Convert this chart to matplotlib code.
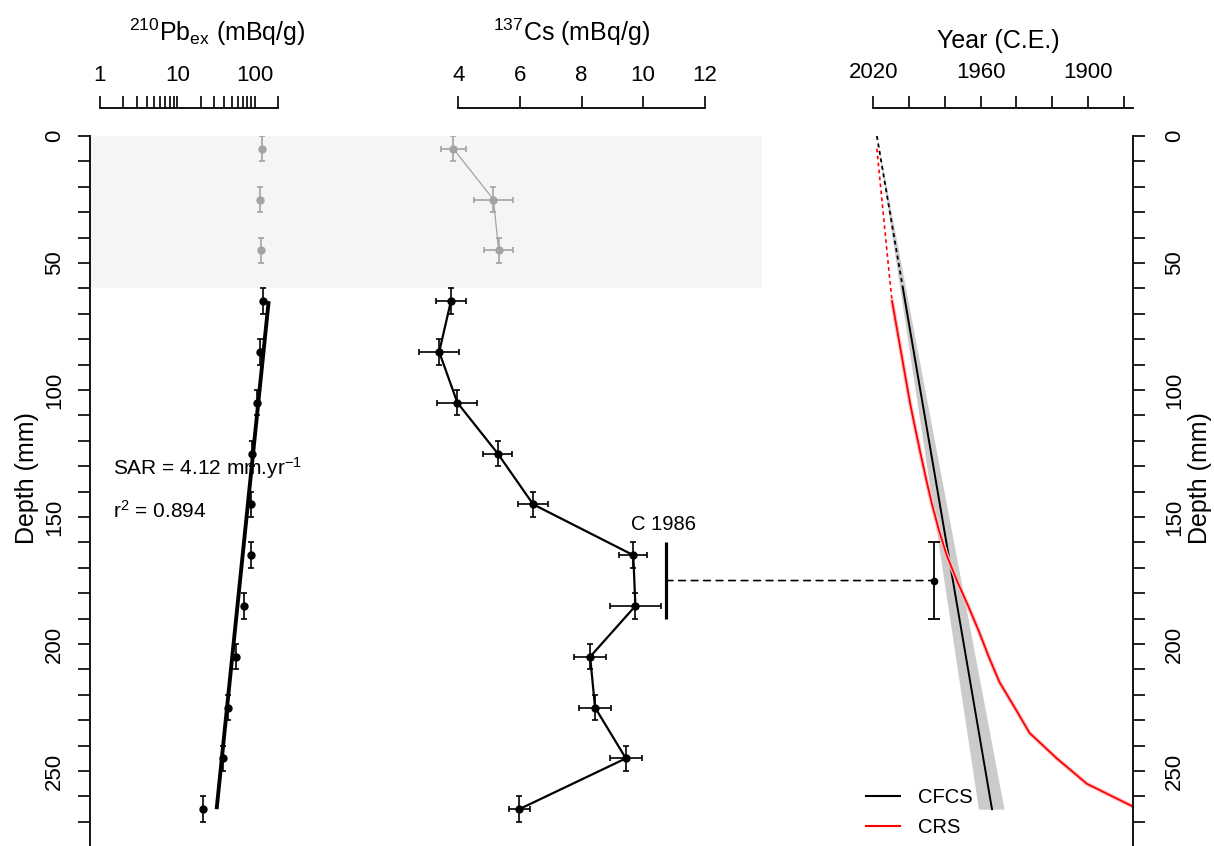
import matplotlib
matplotlib.use("Agg")
import matplotlib.pyplot as plt
import numpy as np
from matplotlib.lines import Line2D
from matplotlib.patches import ConnectionPatch
from matplotlib.ticker import FixedLocator, NullFormatter

plt.rcParams["font.family"] = ["Liberation Sans", "DejaVu Sans"]
plt.rcParams["mathtext.fontset"] = "custom"
plt.rcParams["mathtext.rm"] = "Liberation Sans"
plt.rcParams["mathtext.it"] = "Liberation Sans:italic"
plt.rcParams["mathtext.bf"] = "Liberation Sans:bold"

W, H, DPI = 1214, 846, 100
TOP = 136  # pixel row of depth 0

# sample mid-depths (mm); the first three lie in the mixed surface layer
depth = [5, 25, 45, 65, 85, 105, 125, 145, 165, 185, 205, 225, 245, 265]
n_mixed = 3
mixed_depth = 60
depth_err = 5

pb_ex = [125, 118, 122, 128, 117, 107, 93, 89, 88.5, 73, 57, 45.5, 39, 21.6]

cs = [3.84, 5.14, 5.31, 3.76, 3.38, 3.97, 5.28, 6.43, 9.68, 9.75, 8.28, 8.44, 9.44, 5.98]
cs_err = [0.40, 0.64, 0.46, 0.48, 0.64, 0.65, 0.47, 0.49, 0.45, 0.82, 0.51, 0.52, 0.52, 0.34]

# Cs peak marker
peak_depth = 175
peak_depth_err = 15
peak_year = 1986
peak_x = 10.75

# age models
sample_year = 2018
sar = 4.12
sar_lo = 3.73
sar_hi = 4.67
cfcs_end = 265

crs_depth = [5, 15, 25, 35, 45, 55, 65, 75, 85, 95, 105, 115, 125, 135,
             145, 155, 165, 175, 185, 195, 205, 215, 225, 235, 245, 255, 265]
crs_year = [2018.0, 2016.6, 2015.2, 2013.8, 2012.4, 2011.0, 2009.5, 2007.0,
            2004.5, 2002.0, 1999.5, 1996.6, 1993.6, 1990.5, 1987.2, 1983.4,
            1979.0, 1973.3, 1967.0, 1961.0, 1955.5, 1949.5, 1941.0, 1932.7,
            1917.5, 1900.7, 1872.0]

GRAY = "#a3a3a3"
BAND = "#f5f5f5"
TICK = dict(direction="out", width=1.2, labelsize=16)


def box(x0, x1):
    return [x0 / W, 0.0, (x1 - x0) / W, (H - TOP) / H]


def fx(x):
    return x / W


def fy(y):
    return 1 - y / H


fig = plt.figure(figsize=(W / DPI, H / DPI), dpi=DPI)
ax1 = fig.add_axes(box(90, 370))
ax2 = fig.add_axes(box(370, 762))
ax3 = fig.add_axes(box(780, 1133.3))
for ax in (ax1, ax2, ax3):
    ax.set_facecolor("none")
    ax.set_ylim(279.5, 0)
    for s in ax.spines.values():
        s.set_linewidth(1.3)
    ax.spines["bottom"].set_visible(False)
    ax.xaxis.set_ticks_position("top")
    ax.spines["top"].set_position(("outward", 20.2))

# ---- left panel: 210Pb excess
ax1.set_xscale("log")
ax1.set_xlim(0.7427, 3078)
ax1.spines["right"].set_visible(False)
ax1.spines["top"].set_bounds(1, 200)
ax1.set_xticks([1, 10, 100])
ax1.set_xticklabels(["1", "10", "100"])
ax1.xaxis.set_minor_locator(FixedLocator([2, 3, 4, 5, 6, 7, 8, 9, 20, 30, 40, 50, 60, 70, 80, 90, 200]))
ax1.xaxis.set_minor_formatter(NullFormatter())
ax1.tick_params(axis="x", which="both", length=8.4, pad=7.5, **TICK)
ax1.set_yticks(range(0, 251, 50))
ax1.yaxis.set_minor_locator(FixedLocator(range(0, 280, 10)))
ax1.tick_params(axis="y", which="both", length=8.6, pad=9.2, labelrotation=90, **TICK)
plt.setp(ax1.get_yticklabels(), va="center")

ax1.axhspan(0, mixed_depth, xmin=0, xmax=(762 - 90) / (370 - 90), color=BAND, lw=0,
            zorder=0, clip_on=False)

ax1.errorbar(pb_ex[:n_mixed], depth[:n_mixed], yerr=depth_err, fmt="o", ms=5,
             color=GRAY, capsize=2, elinewidth=1.2, capthick=1.2)
ax1.errorbar(pb_ex[n_mixed:], depth[n_mixed:], yerr=depth_err, fmt="o", ms=5,
             color="black", capsize=2, elinewidth=1.2, capthick=1.2)

d_fit = np.array(depth[n_mixed:], dtype=float)
slope, icpt = np.polyfit(d_fit, np.log10(pb_ex[n_mixed:]), 1)
d_line = np.array([d_fit[0], d_fit[-1]])
ax1.plot(10 ** (slope * d_line + icpt), d_line, color="black", lw=2.8, solid_capstyle="butt")

fig.text(fx(113), fy(475), "SAR = 4.12 mm.yr$^{-1}$", fontsize=15, va="baseline")
fig.text(fx(113), fy(518), "r$^{2}$ = 0.894", fontsize=15, va="baseline")

# ---- middle panel: 137Cs
ax2.set_xlim(1.133, 13.86)
for side in ("left", "right"):
    ax2.spines[side].set_visible(False)
ax2.set_yticks([])
ax2.spines["top"].set_bounds(4, 12)
ax2.set_xticks([4, 6, 8, 10, 12])
ax2.tick_params(axis="x", length=8.4, pad=7.5, **TICK)

ax2.plot(cs[:n_mixed], depth[:n_mixed], color=GRAY, lw=0.9)
ax2.errorbar(cs[:n_mixed], depth[:n_mixed], xerr=cs_err[:n_mixed], yerr=depth_err,
             fmt="o", ms=5, color=GRAY, capsize=2.4, elinewidth=1.2, capthick=1.2)
ax2.plot(cs[n_mixed:], depth[n_mixed:], color="black", lw=1.6)
ax2.errorbar(cs[n_mixed:], depth[n_mixed:], xerr=cs_err[n_mixed:], yerr=depth_err,
             fmt="o", ms=5, color="black", capsize=2.4, elinewidth=1.2, capthick=1.2)

ax2.plot([peak_x, peak_x], [peak_depth - peak_depth_err, peak_depth + peak_depth_err],
         color="black", lw=2.3, solid_capstyle="butt")
ax2.text(peak_x - 0.1, 155.1, "C 1986", ha="center", va="baseline", fontsize=14.5)

# ---- right panel: age models
ax3.set_xlim(2072.1, 1874.75)
ax3.spines["left"].set_visible(False)
ax3.spines["top"].set_bounds(1874.75, 2020)
years = list(range(2020, 1879, -20))
ax3.set_xticks(years)
ax3.set_xticklabels([str(y) if y in (2020, 1960, 1900) else "" for y in years])
ax3.tick_params(axis="x", length=8.4, pad=9.5, **TICK)
ax3.yaxis.tick_right()
ax3.set_yticks(range(0, 251, 50))
ax3.yaxis.set_minor_locator(FixedLocator(range(0, 280, 10)))
ax3.tick_params(axis="y", which="both", length=8.6, pad=13.5, labelrotation=90, **TICK)
plt.setp(ax3.get_yticklabels(), va="center")

d_band = np.array([0.0, cfcs_end])
ax3.fill_betweenx(d_band, sample_year - d_band / sar_lo, sample_year - d_band / sar_hi,
                  color="#cbcbcb", lw=0)
d_top = np.array([0.0, mixed_depth])
d_low = np.array([mixed_depth, cfcs_end])
ax3.plot(sample_year - d_top / sar, d_top, color="black", lw=1.3, ls=(0, (2.2, 2)))
ax3.plot(sample_year - d_low / sar, d_low, color="black", lw=1.4)

k = crs_depth.index(65)
ax3.plot(crs_year[k:], crs_depth[k:], color="#f6c4c4", lw=3.0, solid_joinstyle="round")
ax3.plot(crs_year[:k + 1], crs_depth[:k + 1], color="red", lw=1.2, ls=(0, (2.2, 2)))
ax3.plot(crs_year[k:], crs_depth[k:], color="red", lw=1.3)

ax3.errorbar(peak_year, peak_depth, yerr=peak_depth_err, fmt="o", ms=4.5, color="black",
             capsize=4, elinewidth=1.3, capthick=1.3)

fig.add_artist(ConnectionPatch(xyA=(peak_x, peak_depth), coordsA=ax2.transData,
                               xyB=(peak_year, peak_depth), coordsB=ax3.transData,
                               color="black", lw=1.2, ls=(0, (4, 3.5))))

handles = [Line2D([], [], color="black", lw=1.5), Line2D([], [], color="red", lw=1.5)]
fig.legend(handles, ["CFCS", "CRS"], loc="upper left", bbox_to_anchor=(fx(866), fy(788)),
           frameon=False, fontsize=14.5, handlelength=1.7, handletextpad=0.9,
           borderpad=0, borderaxespad=0, labelspacing=0.55)

# titles and depth labels
fig.text(fx(217.7), fy(41), r"$^{210}$Pb$_{\mathrm{ex}}$ (mBq/g)", ha="center",
         va="baseline", fontsize=18)
fig.text(fx(571.7), fy(41), r"$^{137}$Cs (mBq/g)", ha="center", va="baseline", fontsize=18)
fig.text(fx(998), fy(48), "Year (C.E.)", ha="center", va="baseline", fontsize=18)
fig.text(fx(27), fy(478), "Depth (mm)", rotation=90, ha="center", va="center", fontsize=18)
fig.text(fx(1200), fy(478), "Depth (mm)", rotation=90, ha="center", va="center", fontsize=18)

fig.savefig("out.png", dpi=DPI)
